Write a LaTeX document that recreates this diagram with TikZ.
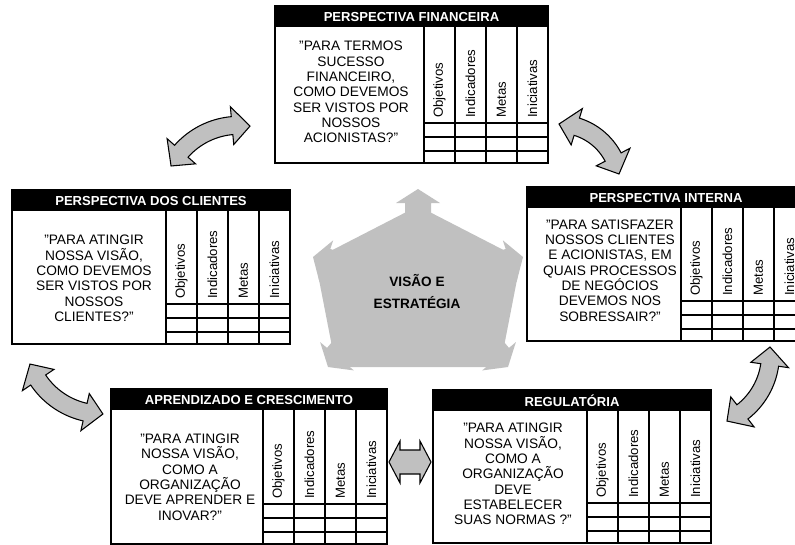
\documentclass[tikz,border=0pt]{standalone}
\usepackage{fontspec}
\setmainfont{Liberation Sans}
\definecolor{vgray}{HTML}{C0C0C0}
\tikzset{
 panelline/.style={line width=1.1pt},
 paneltitle/.style={text=white, font=\fontsize{9.8}{11}\selectfont\bfseries, inner sep=0},
 paneltext/.style={align=center, font=\fontsize{10.3}{11.5}\selectfont, inner sep=0},
 collabel/.style={rotate=90, anchor=west, inner sep=0, font=\fontsize{9.9}{11}\selectfont},
 carrow/.style={fill=vgray, draw=black, line width=0.8pt, line join=miter},
 centertext/.style={align=center, font=\fontsize{10.2}{16.5}\selectfont\bfseries, inner sep=0}
}
% #1 name, #2 left, #3 top, #4 colstart, #5 row1, #6 title, #7 text, #8 textx, #9 texty
\newcommand{\bscpanel}[9]{%
 \pgfmathsetmacro\pR{#4+124}%
 \pgfmathsetmacro\pH{#3+21}%
 \pgfmathsetmacro\pB{#5+40}%
 \fill[black] (#2,#3) rectangle (\pR,\pH);
 \node[paneltitle] (#1-title) at ({(#2+\pR)/2},{#3+10.5}) {#6};
 \draw[panelline] (#2,#3) rectangle (\pR,\pB);
 \foreach \k in {0,1,2,3} \draw[panelline] ({#4+31*\k},\pH) -- ({#4+31*\k},\pB);
 \foreach \k in {0,1,2} \draw[panelline] (#4,{#5+14*\k}) -- (\pR,{#5+14*\k});
 \foreach \lab [count=\k from 0] in {Objetivos,Indicadores,Metas,Iniciativas}
   \node[collabel] (#1-col\k) at ({#4+31*\k+15.5},{#5-5}) {\lab};
 \node[paneltext] (#1-text) at (#8,#9) {#7};
}
% #1 cx, #2 cy, #3 R, #4 a1, #5 a2
\newcommand{\curvarrow}[5]{%
 \begin{scope}[shift={(#1,#2)}]
 \pgfmathsetmacro\da{#4+18/#3*57.2958}%
 \pgfmathsetmacro\db{#5-18/#3*57.2958}%
 \pgfmathsetmacro\ro{#3+9}%
 \pgfmathsetmacro\ri{#3-9}%
 \pgfmathsetmacro\rho{#3+19}%
 \pgfmathsetmacro\rhi{#3-19}%
 \draw[carrow] (#4:#3) -- (\da:\rhi) -- (\da:\ri) -- plot[domain=\da:\db, samples=20] (\x:\ri)
   -- (\db:\rhi) -- (#5:#3) -- (\db:\rho) -- (\db:\ro) -- plot[domain=\db:\da, samples=20] (\x:\ro)
   -- (\da:\rho) -- cycle;
 \end{scope}
}
% #1 tipx, #2 tipy, #3 canvas angle
\newcommand{\pentarrow}[3]{%
 \fill[vgray, shift={(#1,#2)}, rotate=#3] (0,0) -- (-14,22) -- (-14,13) -- (-40,13) -- (-40,-13) -- (-14,-13) -- (-14,-22) -- cycle;
}
\begin{document}
\begin{tikzpicture}[x=0.75pt, y=-0.75pt]
\useasboundingbox (0,0) rectangle (795,544);
\clip (0,0) rectangle (795,544);
\fill[white] (0,0) rectangle (795,544);

% central shape
\fill[vgray] (418,206) -- (315,259) -- (336,367) -- (500,367) -- (521,259) -- cycle;
\pentarrow{418}{189}{90}
\pentarrow{313}{257}{162}
\pentarrow{523}{257}{18}
\pentarrow{328}{367}{230}
\pentarrow{508}{367}{310}
\node[centertext] (vision) at (417,292) {VISÃO E\\ESTRATÉGIA};

% panels
\bscpanel{fin}{275}{6}{424}{123}{PERSPECTIVA FINANCEIRA}{"PARA TERMOS\\SUCESSO\\FINANCEIRO,\\COMO DEVEMOS\\SER VISTOS POR\\NOSSOS\\ACIONISTAS?"}{351}{92}
\bscpanel{cli}{12}{190}{166}{304}{PERSPECTIVA DOS CLIENTES}{"PARA ATINGIR\\NOSSA VISÃO,\\COMO DEVEMOS\\SER VISTOS POR\\NOSSOS\\CLIENTES?"}{94}{278.5}
\bscpanel{int}{527}{187}{681}{301}{PERSPECTIVA INTERNA}{"PARA SATISFAZER\\NOSSOS CLIENTES\\E ACIONISTAS, EM\\QUAIS PROCESSOS\\DE NEGÓCIOS\\DEVEMOS NOS\\SOBRESSAIR?"}{610}{270.5}
\bscpanel{apr}{111}{389}{263}{504}{APRENDIZADO E CRESCIMENTO}{"PARA ATINGIR\\NOSSA VISÃO,\\COMO A\\ORGANIZAÇÃO\\DEVE APRENDER E\\INOVAR?"}{190}{477}
\bscpanel{reg}{433}{390}{587}{503}{REGULATÓRIA}{"PARA ATINGIR\\NOSSA VISÃO,\\COMO A\\ORGANIZAÇÃO\\DEVE\\ESTABELECER\\SUAS NORMAS ?"}{513}{474}

% curved double arrows
\curvarrow{238.9}{202.2}{76.9}{208.1}{278.3}
\curvarrow{558.6}{185.5}{61.5}{270.4}{349.2}
\curvarrow{102}{337.1}{76.9}{89.3}{159.5}
\curvarrow{698}{354.7}{72.4}{-6.1}{66.4}

% small horizontal double arrow
\draw[carrow] (389,462) -- (400,441) -- (400,450) -- (420,450) -- (420,441) -- (431,462)
  -- (420,483) -- (420,474) -- (400,474) -- (400,483) -- cycle;
\end{tikzpicture}
\end{document}
